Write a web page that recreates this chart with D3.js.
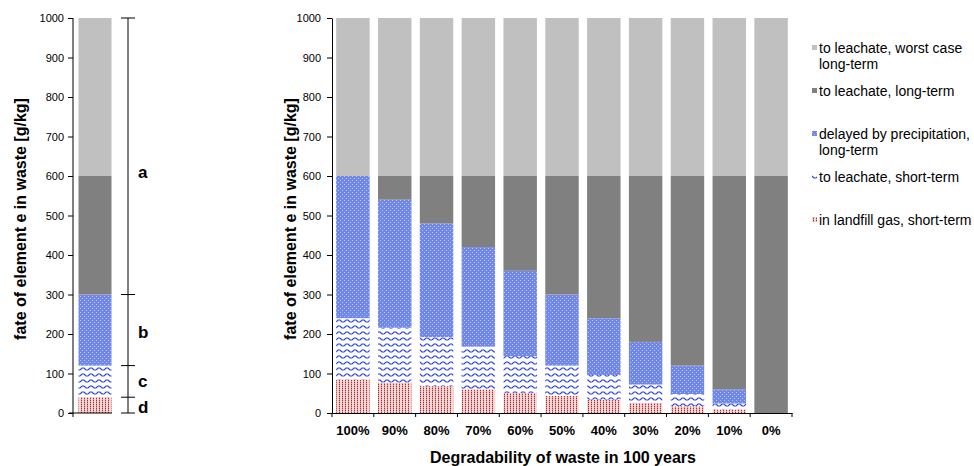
<!DOCTYPE html>
<html>
<head>
<meta charset="utf-8">
<script src="https://cdn.jsdelivr.net/npm/d3@7"></script>
<style>
  body { margin: 0; background: #fff; }
  svg { font-family: "Liberation Sans", Arial, sans-serif; }
  .tick text { font-size: 11px; fill: #000; }
  .axis path, .axis line { stroke: #000; }
</style>
</head>
<body>
<div id="chart"></div>
<script>
const categories = ['100%', '90%', '80%', '70%', '60%', '50%', '40%', '30%', '20%', '10%', '0%'];

const gasShort      = [85, 77, 68, 60, 51, 43, 34, 26, 17, 9, 0];
const leachShort    = [155, 139, 124, 108, 93, 77, 62, 46, 31, 15, 0];
const delayedLong   = [360, 324, 288, 252, 216, 180, 144, 108, 72, 36, 0];
const leachLong     = [0, 60, 120, 180, 240, 300, 360, 420, 480, 540, 600];
const worstCaseLong = [400, 400, 400, 400, 400, 400, 400, 400, 400, 400, 400];

// single reference bar on the left
const refBar = { gas: 40, short: 80, delayed: 180, long: 300, worst: 400 };

const bracketBreaks = [0, 40, 120, 300, 1000];
const bracketLabels = [['a', 610], ['b', 205], ['c', 82], ['d', 16]];

const yTicks = d3.range(0, 1001, 100);

const seriesKeys = ['gas', 'short', 'delayed', 'long', 'worst'];
const seriesNames = {
  worst: ['to leachate, worst case', 'long-term'],
  long: ['to leachate, long-term'],
  delayed: ['delayed by precipitation,', 'long-term'],
  short: ['to leachate, short-term'],
  gas: ['in landfill gas, short-term']
};

const W = 974, H = 466;
const svg = d3.select('#chart').append('svg')
  .attr('width', W).attr('height', H);

// fill patterns
const defs = svg.append('defs');

let p = defs.append('pattern').attr('id', 'pGas')
  .attr('patternUnits', 'userSpaceOnUse').attr('width', 3).attr('height', 2);
p.append('rect').attr('width', 3).attr('height', 2).attr('fill', '#f2d8d8');
p.append('rect').attr('width', 1).attr('height', 1).attr('fill', '#b82828');
p.append('rect').attr('y', 1).attr('width', 1).attr('height', 1).attr('fill', '#e09a9a');

p = defs.append('pattern').attr('id', 'pShort')
  .attr('patternUnits', 'userSpaceOnUse').attr('width', 8).attr('height', 6);
p.append('rect').attr('width', 8).attr('height', 6).attr('fill', '#fff');
p.append('path').attr('d', 'M0,4 L2,2 L4,2 L6,4 L8,4')
  .attr('fill', 'none').attr('stroke', '#2b3fe0').attr('stroke-width', 1.2);

p = defs.append('pattern').attr('id', 'pDelayed')
  .attr('patternUnits', 'userSpaceOnUse').attr('width', 4).attr('height', 4);
p.append('rect').attr('width', 4).attr('height', 4).attr('fill', '#7189e4');
p.append('rect').attr('width', 1).attr('height', 1).attr('fill', '#b4c2f8');
p.append('rect').attr('x', 2).attr('y', 2).attr('width', 1).attr('height', 1).attr('fill', '#b4c2f8');

const fills = {
  gas: 'url(#pGas)', short: 'url(#pShort)', delayed: 'url(#pDelayed)',
  long: '#808080', worst: '#c0c0c0'
};

const y = d3.scaleLinear().domain([0, 1000]).range([413, 18]);
const fmt = d3.format('d');

const stack = d3.stack().keys(seriesKeys);

// ---- left reference bar
const xl = d3.scaleBand().domain(['ref']).range([73, 117])
  .paddingInner(0.25).paddingOuter(0.125);

const leftStack = stack([Object.assign({ cat: 'ref' }, refBar)]);
const gl = svg.append('g');
leftStack.forEach((s) => {
  gl.selectAll(null).data(s).join('rect')
    .attr('x', (d) => xl(d.data.cat))
    .attr('width', xl.bandwidth())
    .attr('y', (d) => y(d[1]))
    .attr('height', (d) => y(d[0]) - y(d[1]))
    .attr('fill', fills[s.key]);
});

svg.append('g').attr('class', 'axis')
  .attr('transform', 'translate(73,0)')
  .call(d3.axisLeft(y).tickValues(yTicks).tickFormat(fmt)
    .tickSize(5).tickSizeOuter(0).tickPadding(4))
  .call((g) => g.select('.domain').attr('d', `M0,${y(1000)}V${y(0) + 4}`));

svg.append('line')
  .attr('x1', 69).attr('x2', 112)
  .attr('y1', y(0)).attr('y2', y(0))
  .attr('stroke', '#000');

// bracket a-d
const bx = 128;
svg.append('line').attr('x1', bx).attr('x2', bx)
  .attr('y1', y(1000)).attr('y2', y(0)).attr('stroke', '#000');
svg.selectAll(null).data(bracketBreaks).join('line')
  .attr('x1', bx - 7).attr('x2', bx + 7)
  .attr('y1', (d) => y(d)).attr('y2', (d) => y(d))
  .attr('stroke', '#000');
svg.selectAll(null).data(bracketLabels).join('text')
  .attr('x', bx + 10)
  .attr('y', (d) => y(d[1]))
  .attr('dy', '0.35em')
  .style('font-size', '17px').style('font-weight', 'bold')
  .text((d) => d[0]);

// ---- main chart
const data = categories.map((c, i) => ({
  cat: c,
  gas: gasShort[i],
  short: leachShort[i],
  delayed: delayedLong[i],
  long: leachLong[i],
  worst: worstCaseLong[i]
}));

const x = d3.scaleBand().domain(categories).range([332, 792])
  .paddingInner(0.2).paddingOuter(0.1);

const gm = svg.append('g');
stack(data).forEach((s) => {
  gm.selectAll(null).data(s).join('rect')
    .attr('x', (d) => x(d.data.cat))
    .attr('width', x.bandwidth())
    .attr('y', (d) => y(d[1]))
    .attr('height', (d) => y(d[0]) - y(d[1]))
    .attr('fill', fills[s.key]);
});

svg.append('g').attr('class', 'axis')
  .attr('transform', 'translate(332,0)')
  .call(d3.axisLeft(y).tickValues(yTicks).tickFormat(fmt)
    .tickSize(5).tickSizeOuter(0).tickPadding(6));

const xAxis = svg.append('g').attr('class', 'axis')
  .attr('transform', `translate(0,${y(0)})`)
  .call(d3.axisBottom(x).tickSize(0).tickSizeOuter(0).tickPadding(13));
xAxis.selectAll('.tick text')
  .style('font-size', '13px').style('font-weight', 'bold');

const step = x.step();
const bounds = categories.map((c) => x(c) - step * x.paddingInner() / 2)
  .concat([792]);
bounds[0] = 332;
xAxis.selectAll('.bound').data(bounds).join('line')
  .attr('class', 'bound')
  .attr('x1', (d) => d).attr('x2', (d) => d)
  .attr('y1', 0).attr('y2', 4)
  .attr('stroke', '#000');

// axis titles
const yTitle = 'fate of element e in waste [g/kg]';
[20, 290].forEach((tx) => {
  svg.append('text')
    .attr('transform', `translate(${tx},219) rotate(-90)`)
    .attr('text-anchor', 'middle')
    .attr('dy', '0.35em')
    .style('font-size', '16px').style('font-weight', 'bold')
    .text(yTitle);
});

svg.append('text')
  .attr('x', 563).attr('y', 457)
  .attr('text-anchor', 'middle').attr('dy', '0.35em')
  .style('font-size', '16px').style('font-weight', 'bold')
  .text('Degradability of waste in 100 years');

// legend
const legendOrder = ['worst', 'long', 'delayed', 'short', 'gas'];
const legend = svg.append('g');
legendOrder.forEach((k, i) => {
  const ly = 48 + i * 43;
  legend.append('rect')
    .attr('x', 812).attr('y', ly - 3)
    .attr('width', 5).attr('height', 5)
    .attr('fill', fills[k]);
  seriesNames[k].forEach((line, j) => {
    legend.append('text')
      .attr('x', 819).attr('y', ly + j * 16)
      .attr('dy', '0.35em')
      .style('font-size', '14px')
      .text(line);
  });
});
</script>
</body>
</html>
